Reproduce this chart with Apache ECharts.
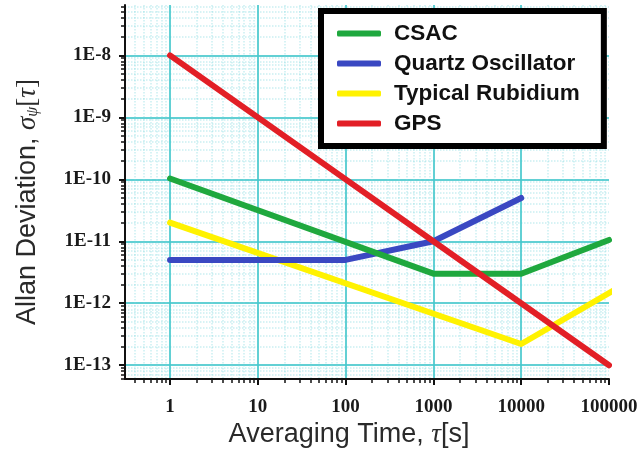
<!DOCTYPE html>
<html>
<head>
<meta charset="utf-8">
<title>Allan Deviation</title>
<script src="https://cdn.jsdelivr.net/npm/echarts@6/dist/echarts.min.js"></script>
<style>
  html, body { margin: 0; padding: 0; background: #ffffff; }
  #chart { width: 642px; height: 453px; }
</style>
</head>
<body>
<div id="chart"></div>
<script>
// Allan deviation curves (averaging time in seconds, deviation dimensionless)
const legendOrder = ['CSAC', 'Quartz Oscillator', 'Typical Rubidium', 'GPS'];

const csacTau = [1, 1000, 10000, 100000];
const csacAdev = [1.03e-10, 3e-12, 3e-12, 1.05e-11];

const quartzTau = [1, 100, 1000, 10000];
const quartzAdev = [5e-12, 5e-12, 1e-11, 5e-11];

const rubidiumTau = [1, 10000, 112000];
const rubidiumAdev = [2e-11, 2.2e-13, 1.6e-12];

const gpsTau = [1, 100000];
const gpsAdev = [1e-8, 1e-13];

// Decade ticks and their labels
const xTickValues = [1, 10, 100, 1000, 10000, 100000];
const xTickLabels = ['1', '10', '100', '1000', '10000', '100000'];
const yTickValues = [1e-13, 1e-12, 1e-11, 1e-10, 1e-9, 1e-8];
const yTickLabels = ['1E-13', '1E-12', '1E-11', '1E-10', '1E-9', '1E-8'];

// Visible axis ranges
const X_MIN = 0.307;
const X_MAX = 100000;
const Y_MIN = 5.97e-14;
const Y_MAX = 6.5e-8;

// 2..9 multiples within each decade, used for minor ticks and faint grid
function minorValues(fromExp, toExp) {
  const out = [];
  for (let e = fromExp; e <= toExp; e++) {
    for (let m = 2; m <= 9; m++) {
      out.push(Number((m * Math.pow(10, e)).toPrecision(3)));
    }
  }
  return out;
}
const xMinor = minorValues(-1, 4);
const yMinor = minorValues(-14, -8);

function pairs(xs, ys) {
  return xs.map((x, i) => [x, ys[i]]);
}
function labelFor(values, labels) {
  return function (v) {
    for (let i = 0; i < values.length; i++) {
      if (Math.abs(Math.log10(v) - Math.log10(values[i])) < 1e-6) return labels[i];
    }
    return '';
  };
}

const AXIS_COLOR = '#111111';
const MAJOR_GRID = 'rgba(70, 200, 205, 0.85)';
const MINOR_GRID = 'rgba(120, 215, 220, 0.4)';
const tickFont = {
  fontFamily: 'Liberation Serif',
  fontWeight: 'bold',
  fontSize: 19,
  color: '#1a1a1a'
};

const chart = echarts.init(document.getElementById('chart'), null, { renderer: 'canvas' });

const option = {
  backgroundColor: '#ffffff',
  animation: false,
  grid: { left: 125, right: 33, top: 5, bottom: 71, containLabel: false },
  legend: {
    data: legendOrder,
    orient: 'vertical',
    left: 321,
    top: 11,
    padding: [11, 24, 11, 16],
    itemGap: 7,
    itemWidth: 44,
    itemHeight: 6,
    icon: 'roundRect',
    backgroundColor: '#ffffff',
    borderColor: '#000000',
    borderWidth: 6,
    borderRadius: 0,
    textStyle: {
      fontFamily: 'Liberation Sans',
      fontWeight: 'bold',
      fontSize: 22.5,
      lineHeight: 22,
      color: '#111111',
      padding: [0, 0, 0, 8]
    }
  },
  xAxis: [
    {
      type: 'log',
      logBase: 10,
      min: X_MIN,
      max: X_MAX,
      position: 'bottom',
      name: 'Averaging Time, {t|τ}[s]',
      nameLocation: 'middle',
      nameGap: 41,
      nameTextStyle: {
        fontFamily: 'Liberation Sans',
        fontSize: 27,
        color: '#2a2a2a',
        padding: [0, 36, 0, 0],
        rich: {
          t: { fontFamily: 'Liberation Serif', fontStyle: 'italic', fontSize: 27, color: '#2a2a2a' }
        }
      },
      axisLine: { show: true, lineStyle: { color: AXIS_COLOR, width: 2 } },
      axisTick: { show: true, customValues: xTickValues, length: 6, lineStyle: { color: AXIS_COLOR, width: 2 } },
      axisLabel: Object.assign({ customValues: xTickValues, margin: 18, formatter: labelFor(xTickValues, xTickLabels) }, tickFont),
      splitLine: { show: true, showMinLine: true, showMaxLine: false, lineStyle: { color: MAJOR_GRID, width: 2 } },
      minorTick: { show: false },
      minorSplitLine: { show: false }
    },
    {
      type: 'log',
      logBase: 10,
      min: X_MIN,
      max: X_MAX,
      position: 'bottom',
      axisLine: { show: false },
      axisTick: { show: true, customValues: xMinor, length: 4, lineStyle: { color: AXIS_COLOR, width: 1.5 } },
      axisLabel: { show: false },
      splitLine: { show: true, showMinLine: true, showMaxLine: true, lineStyle: { color: MINOR_GRID, width: 1.5, type: 'dotted' } }
    }
  ],
  yAxis: [
    {
      type: 'log',
      logBase: 10,
      min: Y_MIN,
      max: Y_MAX,
      position: 'left',
      name: 'Allan Deviation, {g|σ}{s|ψ}{b|[}{g|τ}{b|]}',
      nameLocation: 'middle',
      nameGap: 84,
      nameTextStyle: {
        fontFamily: 'Liberation Sans',
        fontSize: 27,
        color: '#2a2a2a',
        padding: [0, 20, 0, 0],
        rich: {
          g: { fontFamily: 'Liberation Serif', fontStyle: 'italic', fontSize: 27, color: '#2a2a2a' },
          s: { fontFamily: 'Liberation Serif', fontStyle: 'italic', fontSize: 16, color: '#2a2a2a', padding: [10, 0, 0, 0] },
          b: { fontFamily: 'Liberation Serif', fontSize: 27, color: '#2a2a2a' }
        }
      },
      axisLine: { show: true, lineStyle: { color: AXIS_COLOR, width: 2 } },
      axisTick: { show: true, customValues: yTickValues, length: 6, lineStyle: { color: AXIS_COLOR, width: 2 } },
      axisLabel: Object.assign({ customValues: yTickValues, margin: 14, formatter: labelFor(yTickValues, yTickLabels) }, tickFont),
      splitLine: { show: true, showMinLine: true, showMaxLine: true, lineStyle: { color: MAJOR_GRID, width: 2 } },
      minorTick: { show: false },
      minorSplitLine: { show: false }
    },
    {
      type: 'log',
      logBase: 10,
      min: Y_MIN,
      max: Y_MAX,
      position: 'left',
      axisLine: { show: false },
      axisTick: { show: true, customValues: yMinor, length: 4, lineStyle: { color: AXIS_COLOR, width: 1.5 } },
      axisLabel: { show: false },
      splitLine: { show: true, showMinLine: true, showMaxLine: true, lineStyle: { color: MINOR_GRID, width: 1.5, type: 'dotted' } }
    }
  ],
  series: [
    {
      name: 'Typical Rubidium',
      type: 'line',
      xAxisIndex: 0, yAxisIndex: 0,
      data: pairs(rubidiumTau, rubidiumAdev),
      symbol: 'none',
      clip: false,
      color: '#fff200',
      lineStyle: { width: 6, cap: 'round', join: 'round' }
    },
    {
      name: 'Quartz Oscillator',
      type: 'line',
      xAxisIndex: 0, yAxisIndex: 0,
      data: pairs(quartzTau, quartzAdev),
      symbol: 'none',
      clip: false,
      color: '#3a48c2',
      lineStyle: { width: 6, cap: 'round', join: 'round' }
    },
    {
      name: 'CSAC',
      type: 'line',
      xAxisIndex: 0, yAxisIndex: 0,
      data: pairs(csacTau, csacAdev),
      symbol: 'none',
      clip: false,
      color: '#1fa83e',
      lineStyle: { width: 6, cap: 'round', join: 'round' }
    },
    {
      name: 'GPS',
      type: 'line',
      xAxisIndex: 0, yAxisIndex: 0,
      data: pairs(gpsTau, gpsAdev),
      symbol: 'none',
      clip: false,
      color: '#e21f26',
      lineStyle: { width: 6, cap: 'round', join: 'round' }
    }
  ]
};

chart.setOption(option);
</script>
</body>
</html>
